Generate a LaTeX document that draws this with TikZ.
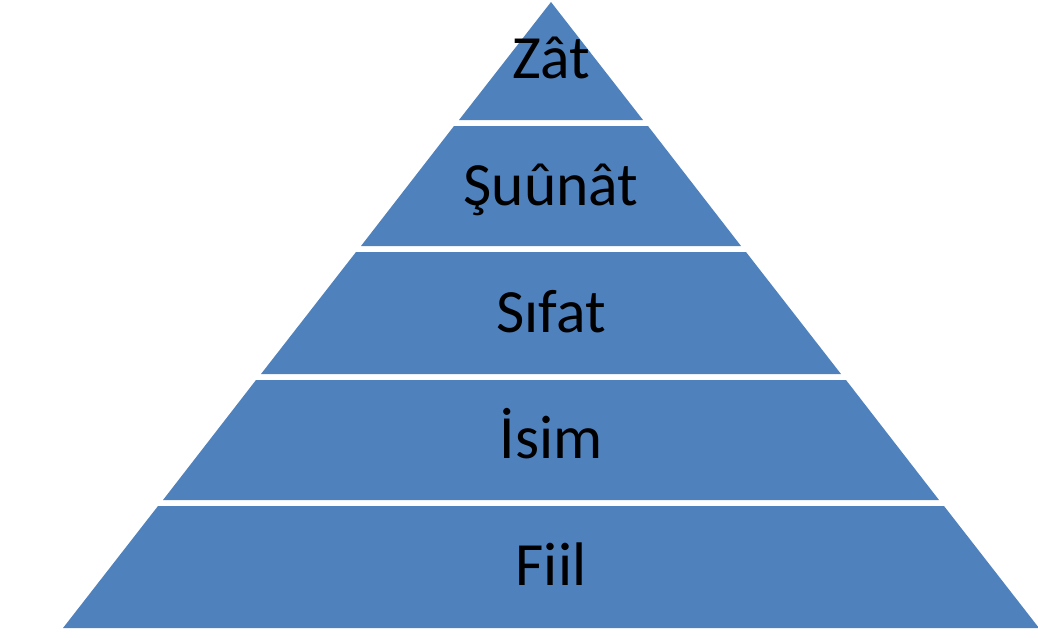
\documentclass[tikz,border=0pt]{standalone}
\usepackage{fontspec}
\setmainfont{Carlito}
\usepackage{tikz}

\definecolor{layerblue}{RGB}{79,129,189}

\begin{document}
\begin{tikzpicture}[
			x=0.02cm, y=-0.02cm,
			layer/.style={fill=layerblue, draw=none},
			lbl/.style={font=\fontsize{35}{42}\selectfont, text=black, inner sep=0pt, anchor=base}
			]
			\useasboundingbox (0,0) rectangle (1038,637);
			
			% pyramid layers, top to bottom
			\fill[layer] (551,2) -- (643,120) -- (459,120) -- cycle;
			\fill[layer] (454,126) -- (648,126) -- (741,246) -- (361,246) -- cycle;
			\fill[layer] (356,252) -- (746,252) -- (841,374) -- (261,374) -- cycle;
			\fill[layer] (256,380) -- (846,380) -- (939,500) -- (163,500) -- cycle;
			\fill[layer] (158,506) -- (944,506) -- (1039,628) -- (63,628) -- cycle;
			
			\node[lbl] (zat) at (551,78) {Zât};
			\node[lbl] (suunat) at (551,205) {Şuûnât};
			\node[lbl] (sifat) at (551,332) {Sıfat};
			\node[lbl] (isim) at (551,458) {İsim};
			\node[lbl] (fiil) at (551,585) {Fiil};
		\end{tikzpicture}
\end{document}
